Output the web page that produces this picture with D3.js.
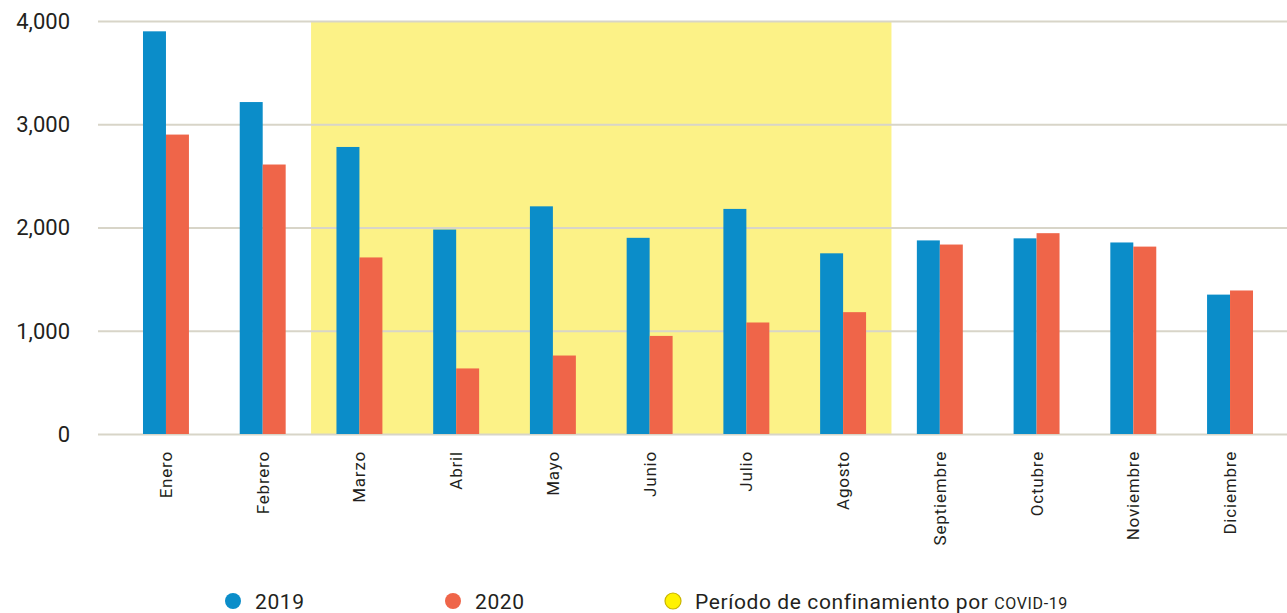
<!DOCTYPE html>
<html>
<head>
<meta charset="utf-8">
<script src="https://cdn.jsdelivr.net/npm/d3@7"></script>
<style>
  body { margin: 0; background: #fff; }
  text { font-family: Roboto, "DejaVu Sans", sans-serif; fill: #231f20; }
</style>
</head>
<body>
<div id="chart"></div>
<script>
// data
const months = ["Enero", "Febrero", "Marzo", "Abril", "Mayo", "Junio", "Julio", "Agosto",
    "Septiembre", "Octubre", "Noviembre", "Diciembre"];
const years = ["2019", "2020"];
const values2019 = [3900, 3215, 2780, 1980, 2205, 1900, 2180, 1750, 1875, 1895, 1855, 1350];
const values2020 = [2900, 2610, 1710, 635, 760, 950, 1080, 1180, 1835, 1945, 1815, 1390];
const yTicks = [0, 1000, 2000, 3000, 4000];
const lockdown = ["Marzo", "Agosto"]; // first and last month of the shaded period
const legendLabel = "Período de confinamiento por ";
const legendSmall = "COVID-19";

const width = 1287, height = 613;
const colors = { "2019": "#0b8dc9", "2020": "#ef6549" };

const svg = d3.select("#chart").append("svg")
    .attr("width", width)
    .attr("height", height);

// x scales
const x0 = d3.scaleBand()
    .domain(months)
    .range([117.6, 1278.4])
    .paddingInner(0.525)
    .paddingOuter(0.2625);

const x1 = d3.scaleBand().domain(years).range([0, x0.bandwidth()]);

// y scale
const y = d3.scaleLinear().domain([0, 4000]).range([434, 21]);

// shaded lockdown period
const gap = x0.step() * x0.paddingInner() / 2;
svg.append("rect")
    .attr("x", x0(lockdown[0]) - gap)
    .attr("y", y(4000))
    .attr("width", x0(lockdown[1]) + x0.bandwidth() + gap - (x0(lockdown[0]) - gap))
    .attr("height", y(0) - y(4000))
    .attr("fill", "#fcf287");

// gridlines + y labels
const yAxis = svg.append("g")
    .attr("transform", "translate(98,0)")
    .call(d3.axisRight(y).tickValues(yTicks).tickSize(width - 98).tickFormat(d3.format(",")));
yAxis.select(".domain").remove();
yAxis.selectAll(".tick line").attr("stroke", "#d8d5c8").attr("stroke-width", 2);
yAxis.selectAll(".tick text")
    .attr("x", -28)
    .attr("dy", "0.33em")
    .attr("text-anchor", "end")
    .style("font-size", "22px");

// bars
const rows = months.map((m, i) => ({ month: m, vals: [
    { year: "2019", v: values2019[i] },
    { year: "2020", v: values2020[i] }] }));

svg.append("g")
    .selectAll("g")
    .data(rows)
    .join("g")
    .attr("transform", d => `translate(${x0(d.month)},0)`)
    .selectAll("rect")
    .data(d => d.vals)
    .join("rect")
    .attr("x", d => x1(d.year))
    .attr("y", d => y(d.v))
    .attr("width", x1.bandwidth())
    .attr("height", d => y(0) - y(d.v))
    .attr("fill", d => colors[d.year]);

// month labels
const xAxis = svg.append("g")
    .attr("transform", `translate(0,${y(0)})`)
    .call(d3.axisBottom(x0).tickSize(0));
xAxis.select(".domain").remove();
xAxis.selectAll(".tick text")
    .attr("transform", "rotate(-90)")
    .attr("x", -17)
    .attr("y", 0)
    .attr("dy", "0.35em")
    .attr("text-anchor", "end")
    .style("font-size", "17px")
    .style("letter-spacing", "0.8px");

// legend
const legend = svg.append("g").attr("transform", "translate(0,602)");
const items = [
    { x: 233, fill: colors["2019"], stroke: "none", label: "2019" },
    { x: 453, fill: colors["2020"], stroke: "none", label: "2020" },
    { x: 673, fill: "#fff200", stroke: "#c9b400", label: legendLabel }
];
const li = legend.selectAll("g").data(items).join("g")
    .attr("transform", d => `translate(${d.x},0)`);
li.append("circle")
    .attr("r", 8)
    .attr("cy", -1)
    .attr("fill", d => d.fill)
    .attr("stroke", d => d.stroke)
    .attr("stroke-width", 1.2);
const lt = li.append("text")
    .attr("x", 22)
    .attr("dy", "0.35em")
    .style("font-size", "21px")
    .style("letter-spacing", "0.6px")
    .text(d => d.label);
lt.filter((d, i) => i === 2)
    .append("tspan")
    .style("font-size", "16px")
    .text(legendSmall);
</script>
</body>
</html>
